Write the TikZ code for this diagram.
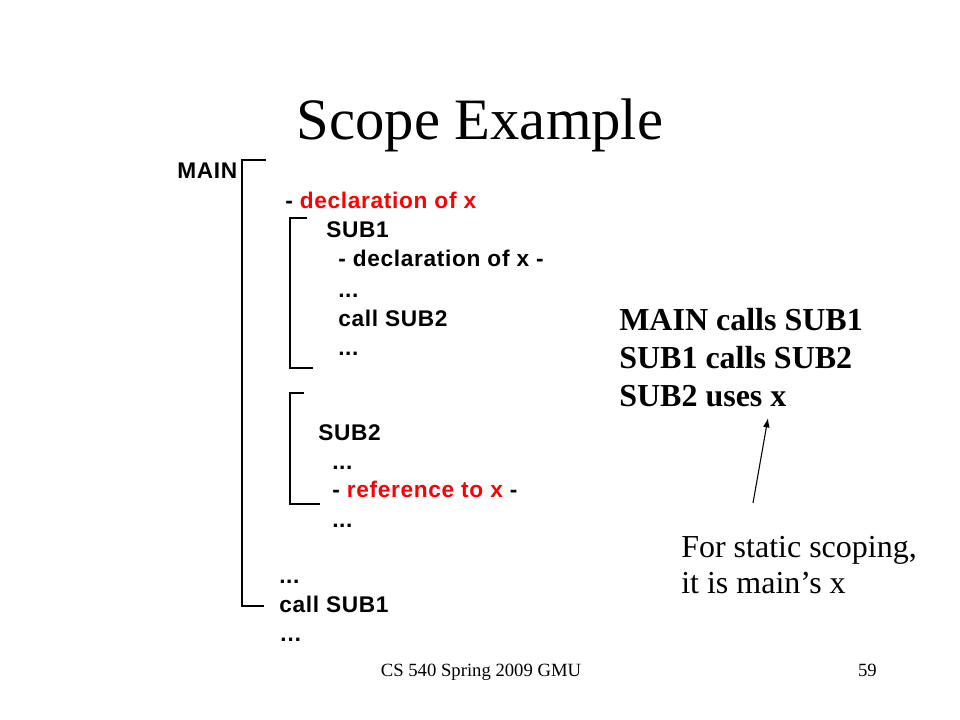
\documentclass[tikz,border=0pt]{standalone}
\usepackage{fontspec}
\setmainfont{Liberation Serif}
\newfontfamily\arialfont[LetterSpace=3]{Liberation Sans}
\usetikzlibrary{arrows.meta}
\begin{document}
\begin{tikzpicture}[x=0.75pt,y=-0.75pt,
	code/.style={anchor=base west,inner sep=0pt,font=\arialfont\bfseries\fontsize{17}{20}\selectfont},
	note/.style={anchor=base west,inner sep=0pt,font=\fontsize{24}{29}\selectfont},
	foot/.style={inner sep=0pt,font=\fontsize{14}{17}\selectfont},
	bracket/.style={line width=1pt}]
	\useasboundingbox[fill=white] (0,0) rectangle (960,720);
	
	\node[anchor=base,inner sep=0pt,font=\fontsize{44}{53}\selectfont] (title) at (480,140) {Scope Example};
	
	% MAIN block
	\node[code] (main) at (177,179) {MAIN};
	\node[code] (decl) at (285,209) {- \textcolor{red}{declaration of x}};
	\node[code] (sub1) at (326,238) {SUB1};
	\node[code] (decl1) at (338,267) {- declaration of x -};
	\node[code] (dots1) at (338,297) {...};
	\node[code] (call2) at (338,326) {call SUB2};
	\node[code] (dots2) at (338,355) {...};
	\node[code] (sub2) at (318,440) {SUB2};
	\node[code] (dots3) at (332,469) {...};
	\node[code] (ref) at (332,497) {- \textcolor{red}{reference to x} -};
	\node[code] (dots4) at (332,527) {...};
	\node[code] (dots5) at (279,583) {...};
	\node[code] (call1) at (279,612) {call SUB1};
	\node[code] (dots6) at (279,641) {\dots};
	
	% brackets
	\draw[bracket] (266,160) -- (242,160) -- (242,606) -- (264,606);
	\draw[bracket] (307,218) -- (290,218) -- (290,368) -- (313,368);
	\draw[bracket] (304,393) -- (290,393) -- (290,504) -- (320,504);
	
	% notes
	\node[note,font=\bfseries\fontsize{24}{29}\selectfont] (calls1) at (619,330) {MAIN calls SUB1};
	\node[note,font=\bfseries\fontsize{24}{29}\selectfont] (calls2) at (619,368) {SUB1 calls SUB2};
	\node[note,font=\bfseries\fontsize{24}{29}\selectfont] (uses) at (619,406) {SUB2 uses x};
	\node[note] (static) at (681,557) {For static scoping,};
	\node[note] (mains) at (681,593) {it is main’s x};
	\coordinate (tail) at (753,503);
	\coordinate (tip) at (768,418);
	\draw[line width=0.8pt,-{Latex[length=7pt,width=5pt]}] (tail) -- (tip);
	
	% footer
	\node[foot,anchor=base] (course) at (481,676) {CS 540 Spring 2009 GMU};
	\node[foot,anchor=base east] (page) at (877,676) {59};
\end{tikzpicture}
\end{document}
